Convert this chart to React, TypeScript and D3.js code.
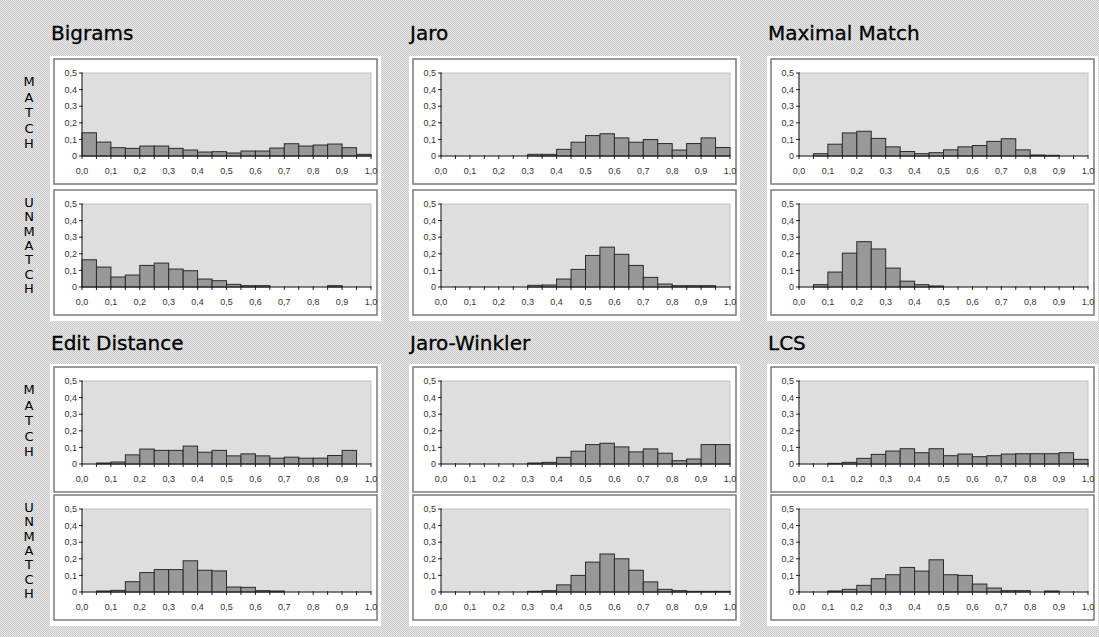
import React from "react";
import * as d3 from "d3";

const width = 1099;
const height = 637;

// 20 bins of width 0.05 from 0 to 1 (share of pairs per similarity bin)
const binStep = 0.05;
const binStarts = d3.range(20).map(i => i * binStep);

const bigramsMatch = [0.14, 0.084, 0.05, 0.046, 0.06, 0.06, 0.046, 0.036, 0.024, 0.026, 0.018, 0.03, 0.03, 0.048, 0.074, 0.06, 0.066, 0.072, 0.05, 0.01];
const bigramsUnmatch = [0.164, 0.12, 0.06, 0.072, 0.13, 0.144, 0.108, 0.098, 0.048, 0.038, 0.016, 0.008, 0.008, 0, 0, 0, 0, 0.008, 0, 0];
const jaroMatch = [0, 0, 0, 0, 0, 0, 0.01, 0.01, 0.04, 0.083, 0.123, 0.134, 0.109, 0.083, 0.099, 0.075, 0.036, 0.075, 0.109, 0.051];
const jaroUnmatch = [0, 0, 0, 0, 0, 0, 0.01, 0.012, 0.048, 0.106, 0.19, 0.24, 0.197, 0.13, 0.058, 0.018, 0.008, 0.008, 0.008, 0];
const maximalMatch = [0, 0.014, 0.071, 0.139, 0.149, 0.106, 0.055, 0.027, 0.014, 0.02, 0.037, 0.055, 0.063, 0.088, 0.104, 0.037, 0.006, 0.004, 0, 0];
const maximalUnmatch = [0, 0.014, 0.09, 0.204, 0.273, 0.229, 0.114, 0.035, 0.014, 0.006, 0, 0, 0, 0, 0, 0, 0, 0, 0, 0];
const editMatch = [0, 0.006, 0.012, 0.055, 0.09, 0.082, 0.082, 0.108, 0.071, 0.082, 0.049, 0.061, 0.049, 0.035, 0.041, 0.035, 0.035, 0.051, 0.082, 0];
const editUnmatch = [0, 0.006, 0.01, 0.062, 0.117, 0.135, 0.135, 0.188, 0.131, 0.127, 0.03, 0.028, 0.008, 0.006, 0, 0, 0, 0, 0, 0];
const winklerMatch = [0, 0, 0, 0, 0, 0, 0.006, 0.01, 0.04, 0.077, 0.117, 0.125, 0.103, 0.073, 0.091, 0.065, 0.02, 0.03, 0.117, 0.117];
const winklerUnmatch = [0, 0, 0, 0, 0, 0, 0.004, 0.008, 0.043, 0.1, 0.18, 0.229, 0.2, 0.131, 0.061, 0.016, 0.008, 0.004, 0.004, 0.004];
const lcsMatch = [0, 0, 0.004, 0.01, 0.034, 0.058, 0.078, 0.092, 0.068, 0.092, 0.05, 0.06, 0.044, 0.05, 0.06, 0.062, 0.062, 0.062, 0.068, 0.028];
const lcsUnmatch = [0, 0, 0.006, 0.016, 0.04, 0.08, 0.104, 0.148, 0.126, 0.194, 0.104, 0.1, 0.048, 0.024, 0.008, 0.008, 0, 0.006, 0, 0];

const titles = ["Bigrams", "Jaro", "Maximal Match", "Edit Distance", "Jaro-Winkler", "LCS"];
const matchSeries = [bigramsMatch, jaroMatch, maximalMatch, editMatch, winklerMatch, lcsMatch];
const unmatchSeries = [bigramsUnmatch, jaroUnmatch, maximalUnmatch, editUnmatch, winklerUnmatch, lcsUnmatch];

const yTicks = [0, 0.1, 0.2, 0.3, 0.4, 0.5];
const xLabelTicks = d3.range(11).map(i => i / 10);
const xMinorTicks = d3.range(21).map(i => i * binStep);

// layout
const colLeft = [54, 413, 771];
const boxW = 323;
const titleBase = [40, 350];
const matchTop = [59, 367];
const unmatchTop = [190, 495];
const boxH = 125;
const plotW = 289;
const plotH = 83;

const fmt = (v: number) => (v === 0 ? "0" : d3.format(".1f")(v).replace(".", ","));
const fmtX = (v: number) => d3.format(".1f")(v).replace(".", ",");

const labelFont = "'Liberation Sans', Arial, sans-serif";
const titleFont = "'DejaVu Sans', Verdana, sans-serif";

function Histogram({ left, top, values }: { left: number; top: number; values: number[] }) {
  const x0 = left + 28;
  const yTop = top + 14;
  const x = d3.scaleLinear().domain([0, 1]).range([x0, x0 + plotW]);
  const y = d3.scaleLinear().domain([0, 0.5]).range([yTop + plotH, yTop]);
  const zero = y(0);
  return (
    <g>
      <rect x={left} y={top} width={boxW} height={boxH} fill="#fff" stroke="#7a7a7a" strokeWidth={1.5} />
      <rect x={x(0)} y={y(0.5)} width={x(1) - x(0)} height={zero - y(0.5)} fill="#dedede" stroke="#c2c2c2" strokeWidth={1} />
      {values.map((v, i) =>
        v > 0 ? (
          <rect
            key={i}
            x={x(binStarts[i])}
            y={y(v)}
            width={x(binStarts[i] + binStep) - x(binStarts[i])}
            height={zero - y(v)}
            fill="#989898"
            stroke="#2a2a2a"
            strokeWidth={1}
          />
        ) : null
      )}
      <line x1={x0} x2={x0} y1={y(0.5)} y2={zero} stroke="#222" />
      <line x1={x(0)} x2={x(1)} y1={zero} y2={zero} stroke="#222" />
      {yTicks.map(t => (
        <g key={t}>
          <line x1={x0 - 3} x2={x0 + 1} y1={y(t)} y2={y(t)} stroke="#222" />
          <text x={x0 - 5} y={y(t)} dy="0.35em" textAnchor="end" fontSize={9} fontFamily={labelFont} fill="#333">
            {fmt(t)}
          </text>
        </g>
      ))}
      {xMinorTicks.map(t => (
        <line key={t} x1={x(t)} x2={x(t)} y1={zero - 1} y2={zero + 3} stroke="#222" />
      ))}
      {xLabelTicks.map(t => (
        <text key={t} x={x(t)} y={zero + 18} textAnchor="middle" fontSize={9} fontFamily={labelFont} fill="#333">
          {fmtX(t)}
        </text>
      ))}
    </g>
  );
}

function SideLabel({ word, center, step }: { word: string; center: number; step: number }) {
  const letters = word.split("");
  const start = center - ((letters.length - 1) * step) / 2;
  return (
    <g>
      {letters.map((c, i) => (
        <text key={i} x={29} y={start + i * step} dy="0.35em" textAnchor="middle" fontSize={13} fontFamily={titleFont} fill="#000">
          {c}
        </text>
      ))}
    </g>
  );
}

export default function App() {
  return (
    <svg width={width} height={height} style={{ position: "absolute", left: 0, top: 0 }}>
      <defs>
        <pattern id="weave" width="2" height="2" patternUnits="userSpaceOnUse">
          <rect width="2" height="2" fill="#e8e8e8" />
          <rect width="1" height="1" fill="#c9c9c9" />
          <rect x="1" y="1" width="1" height="1" fill="#c9c9c9" />
        </pattern>
      </defs>
      <rect width={width} height={height} fill="url(#weave)" />
      {[0, 1].map(r => (
        <g key={r}>
          <SideLabel word="MATCH" center={matchTop[r] + 14 + plotH / 2 - 2} step={15.5} />
          <SideLabel word="UNMATCH" center={unmatchTop[r] + 14 + plotH / 2} step={14.3} />
        </g>
      ))}
      {titles.map((t, k) => {
        const c = k % 3;
        const r = Math.floor(k / 3);
        const left = colLeft[c];
        return (
          <g key={t}>
            <rect x={left - 4} y={matchTop[r] - 3} width={boxW + 8} height={unmatchTop[r] + boxH + 6 - (matchTop[r] - 3)} fill="#fff" />
            <text x={left - 3} y={titleBase[r]} fontSize={20} fontFamily={titleFont} fill="#000" stroke="#000" strokeWidth={0.3}>
              {t}
            </text>
            <Histogram left={left} top={matchTop[r]} values={matchSeries[k]} />
            <Histogram left={left} top={unmatchTop[r]} values={unmatchSeries[k]} />
          </g>
        );
      })}
    </svg>
  );
}
